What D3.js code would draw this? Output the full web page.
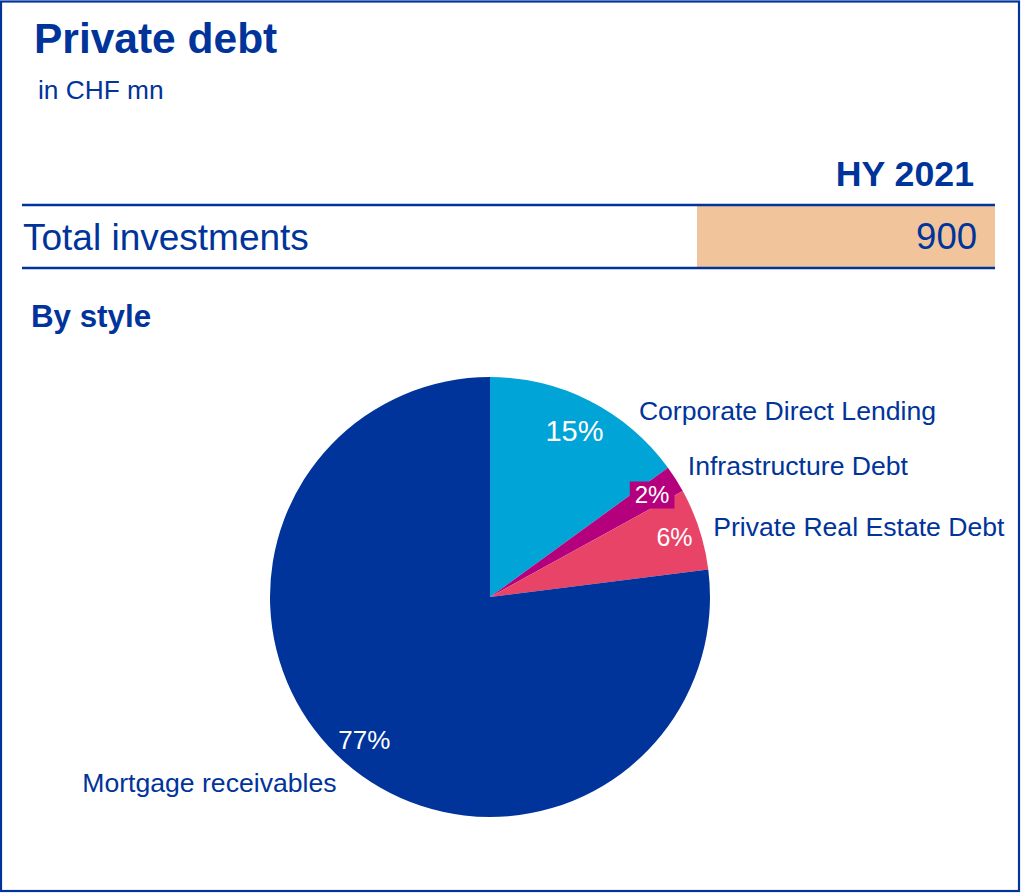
<!DOCTYPE html>
<html>
<head>
<meta charset="utf-8">
<script src="https://cdn.jsdelivr.net/npm/d3@7"></script>
<style>
  html, body { margin: 0; padding: 0; background: #fff; }
  svg { display: block; font-family: "Liberation Sans", Arial, sans-serif; }
</style>
</head>
<body>
<svg id="chart" width="1021" height="893"></svg>
<script>
// Private debt allocation by style, HY 2021
const categories = ["Corporate Direct Lending", "Infrastructure Debt", "Private Real Estate Debt", "Mortgage receivables"];
const shares = [15, 2, 6, 77];
const periodLabel = "HY 2021";
const totalLabel = "Total investments";
const totalValue = 900;

// Presentation settings
const colors = ["#00A4D6", "#B5007E", "#E84467", "#00349A"];
const blue = "#00349A";
const W = 1021, H = 893;
const cx = 490, cy = 597, R = 220;
// Per-slice label placement: radius for the percent text, offset of the category name
// from the slice's outer mid-point, and text sizes
const pctRadius = [186, 192, 194, 190];
const pctSize = [29, 24, 25, 26];
const nameOffset = [[49, 19], [12, -4], [14, 7], [-8, 30]];

const svg = d3.select("#chart");

// frame
svg.append("rect")
  .attr("x", 1).attr("y", 1.5).attr("width", W - 3).attr("height", H - 3.5)
  .attr("fill", "none").attr("stroke", blue).attr("stroke-width", 2.2);

// title block
svg.append("text").attr("x", 34).attr("y", 53)
  .attr("font-size", 42.5).attr("font-weight", "bold").attr("fill", blue)
  .text("Private debt");
svg.append("text").attr("x", 38).attr("y", 99)
  .attr("font-size", 26.3).attr("fill", blue)
  .text("in CHF mn");

// summary table
const tableLeft = 22, tableRight = 995, rowTop = 205, rowBottom = 268, valueLeft = 697;
svg.append("text").attr("x", 974).attr("y", 186)
  .attr("text-anchor", "end").attr("font-size", 35.7).attr("font-weight", "bold").attr("fill", blue)
  .text(periodLabel);
svg.append("rect")
  .attr("x", valueLeft).attr("y", rowTop).attr("width", tableRight - valueLeft).attr("height", rowBottom - rowTop)
  .attr("fill", "#F2C49C");
[rowTop, rowBottom].forEach(y => {
  svg.append("line").attr("x1", tableLeft).attr("x2", tableRight).attr("y1", y).attr("y2", y)
    .attr("stroke", blue).attr("stroke-width", 2.5);
});
svg.append("text").attr("x", 23).attr("y", 250)
  .attr("font-size", 37).attr("fill", blue).text(totalLabel);
svg.append("text").attr("x", 977).attr("y", 249)
  .attr("text-anchor", "end").attr("font-size", 36.5).attr("fill", blue)
  .text(d3.format(",")(totalValue));

svg.append("text").attr("x", 31).attr("y", 327)
  .attr("font-size", 31.3).attr("font-weight", "bold").attr("fill", blue)
  .text("By style");

// pie
const data = categories.map((c, i) => ({ name: c, value: shares[i], i }));
const pie = d3.pie().value(d => d.value).sort(null);
const arcs = pie(data);
const arc = d3.arc().innerRadius(0).outerRadius(R);

const g = svg.append("g").attr("transform", `translate(${cx},${cy})`);
g.selectAll("path.slice").data(arcs).join("path")
  .attr("class", "slice")
  .attr("d", arc)
  .attr("fill", d => colors[d.data.i]);

// percent labels
const pctG = g.selectAll("g.pct").data(arcs).join("g")
  .attr("class", "pct")
  .attr("transform", d => {
    const c = d3.arc().innerRadius(pctRadius[d.data.i]).outerRadius(pctRadius[d.data.i]).centroid(d);
    return `translate(${c[0]},${c[1]})`;
  });
pctG.each(function(d) {
  const sel = d3.select(this);
  const size = pctSize[d.data.i];
  const t = sel.append("text")
    .attr("text-anchor", "middle")
    .attr("dy", "0.35em")
    .attr("font-size", size)
    .attr("fill", "#fff")
    .text(d.data.value + "%");
  // the narrow slice gets a filled backing so the label stays legible
  if (d.endAngle - d.startAngle < 0.2) {
    const bb = t.node().getBBox();
    sel.insert("rect", "text")
      .attr("x", bb.x - 5).attr("y", bb.y + 1)
      .attr("width", bb.width + 10).attr("height", bb.height)
      .attr("fill", colors[d.data.i]);
  }
});

// category names outside the pie
const outer = d3.arc().innerRadius(R).outerRadius(R);
g.selectAll("text.name").data(arcs).join("text")
  .attr("class", "name")
  .attr("x", d => outer.centroid(d)[0] + nameOffset[d.data.i][0])
  .attr("y", d => outer.centroid(d)[1] + nameOffset[d.data.i][1])
  .attr("text-anchor", d => ((d.startAngle + d.endAngle) / 2 > Math.PI ? "end" : "start"))
  .attr("font-size", 26.6)
  .attr("fill", blue)
  .text(d => d.data.name);
</script>
</body>
</html>
